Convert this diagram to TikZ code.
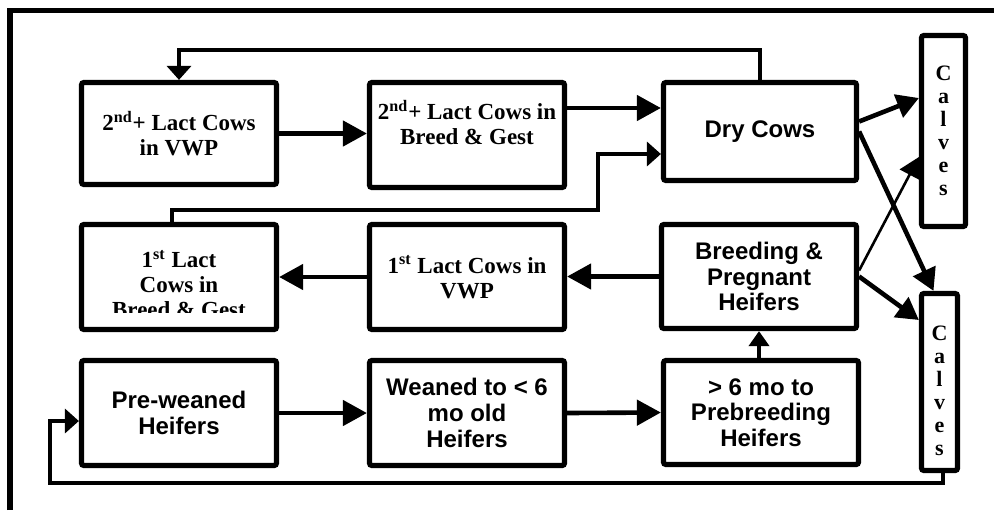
\documentclass[tikz,border=0pt]{standalone}
\usepackage{fontspec}
\setmainfont{Liberation Serif}
\setsansfont{Liberation Sans}
\usetikzlibrary{arrows.meta}

\newcommand{\serbf}{\fontsize{11.5}{12.5}\selectfont\bfseries}
\newcommand{\sanbf}{\fontsize{12}{12.8}\selectfont\sffamily\bfseries}
\newcommand{\calbf}{\fontsize{11}{11.5}\selectfont\bfseries}

\tikzset{
  box/.style={draw, line width=2.6pt, rounded corners=1.2pt, inner sep=0pt,
    align=center, minimum width=97.5pt, minimum height=52.5pt},
  flow/.style={line width=2.3pt, -{Triangle[length=12pt,width=12.5pt]}},
  back/.style={line width=2pt, -{Triangle[length=7pt,width=12pt]}},
  thinflow/.style={line width=1.3pt, -{Triangle[length=10pt,width=11pt]}},
}

\begin{document}
\begin{tikzpicture}[x=0.5pt,y=-0.5pt]
\useasboundingbox (0,0) rectangle (994,510);
% frame
\draw[line width=2.7pt] (10,510) |- (994,10.5);

% cows
\node[box, font=\serbf, minimum height=51pt] (lact2v) at (179,133.5) {2\textsuperscript{nd}+ Lact Cows\\in VWP};
\node[box, font=\serbf] (lact2b) at (467,135) {2\textsuperscript{nd}+ Lact Cows in\\Breed \& Gest\\ \mbox{}};
\node[box, font=\sanbf, minimum width=96.5pt, minimum height=49pt] (dry) at (760,131.5) {Dry Cows};

\node[box] (lact1b) at (179,277) {};
\begin{scope}
  \clip (79,222) rectangle (279,312);
  \node[font=\serbf, align=center] (lact1btxt) at ([yshift=-3.5pt]lact1b.center) {1\textsuperscript{st} Lact\\Cows in\\Breed \& Gest};
\end{scope}
\node[box, font=\serbf] (lact1v) at (467,277) {1\textsuperscript{st} Lact Cows in\\VWP};
\node[box, font=\sanbf, minimum height=52pt] (breed) at (759,276.5) {Breeding \&\\Pregnant\\Heifers};

% heifers
\node[box, font=\sanbf] (prewean) at (179,413) {Pre-weaned\\Heifers};
\node[box, font=\sanbf] (weaned) at (467,413) {Weaned to {\textless} 6\\mo old\\Heifers};
\node[box, font=\sanbf, minimum height=52pt] (prebreed) at (761,412.5) {{\textgreater} 6 mo to\\Prebreeding\\Heifers};

% calves
\node[box, font=\calbf, minimum width=22pt, minimum height=95.5pt] (calvest) at (943.5,131) {C\\a\\l\\v\\e\\s};
\node[box, font=\calbf, minimum width=18pt, minimum height=88.5pt] (calvesb) at (939.5,382) {\mbox{}\\[5pt]C\\a\\l\\v\\e\\s};

\coordinate (jog) at (598,154);
\coordinate (loopin) at (50,421);

\draw[back] (dry.north) -- ++(0,-30) -| (lact2v.north);
\draw[flow] (lact2v.east) -- (lact2v.east -| lact2b.west);
\draw[flow] ([yshift=13.5pt]lact2b.east) -- ([yshift=13.5pt]lact2b.east -| dry.west);
\draw[back] ([xshift=-3.5pt]lact1b.north) -- ++(0,-12) -| (jog) -- (jog -| dry.west);

\draw[flow, -{Triangle[length=11pt,width=12pt]}] ([yshift=5pt]dry.east) -- ([yshift=16.5pt]calvest.west);
\draw[flow, -{Triangle[length=11pt,width=12pt]}] (dry.east) -- ([xshift=-3pt]calvesb.north);
\draw[thinflow] ([yshift=3pt]breed.east) -- ([yshift=-13pt]calvest.west);
\draw[flow, -{Triangle[length=11pt,width=12pt]}] (breed.east) -- ([yshift=31pt]calvesb.west);

\draw[flow] (lact1v.west) -- (lact1v.west -| lact1b.east);
\draw[flow] (breed.west) -- (breed.west -| lact1v.east);
\draw[flow] (prewean.east) -- (prewean.east -| weaned.west);
\draw[flow] (weaned.east) -- (prebreed.west);
\draw[back, -{Triangle[length=7.5pt,width=10pt]}] (breed.south |- prebreed.north) -- (breed.south);

\draw[back] ([xshift=1.75pt]calvesb.south) -- ++(0,10) -| (loopin) -- (loopin -| prewean.west);
\end{tikzpicture}
\end{document}
